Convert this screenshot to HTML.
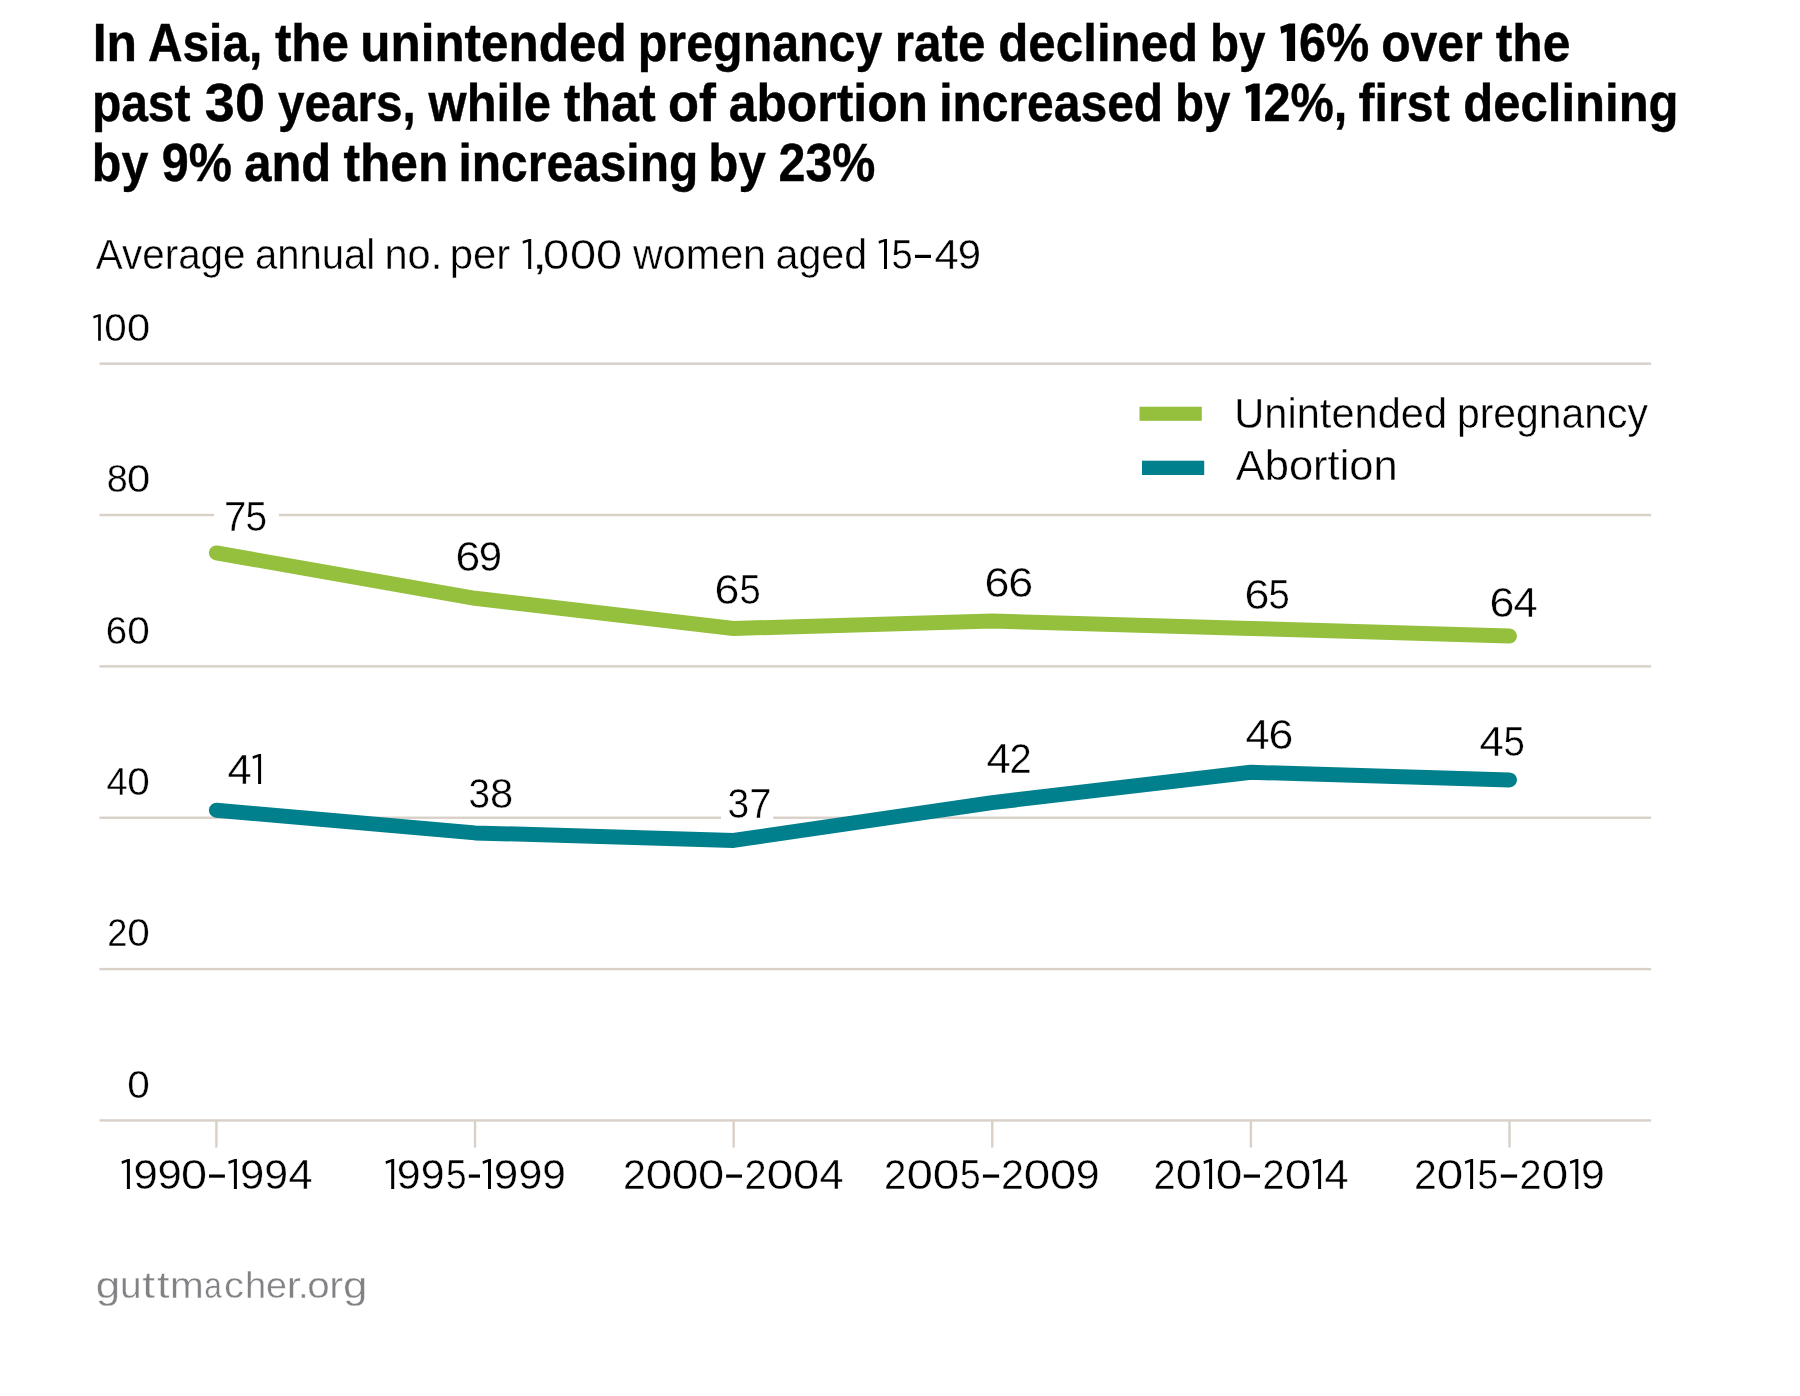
<!DOCTYPE html>
<html lang="en"><head><meta charset="utf-8"><title>Unintended pregnancy and abortion rates in Asia, 1990-2019</title>
<style>
html,body{margin:0;padding:0;background:#fff;}
svg{display:block;will-change:transform;}
text{font-family:"Liberation Sans",sans-serif;white-space:pre;vector-effect:non-scaling-stroke;}
body{width:1800px;height:1396px;overflow:hidden;}
</style></head><body>
<svg width="1800" height="1396" viewBox="0 0 1800 1396">
<defs>
<clipPath id="c1"><rect x="0" y="22.7" width="1800" height="58"/></clipPath>
<clipPath id="c2"><rect x="0" y="82.6" width="1800" height="58"/></clipPath>
<clipPath id="c3"><rect x="0" y="142.6" width="1800" height="58"/></clipPath>
</defs>
<rect width="1800" height="1396" fill="#fff"/>
<g id="grid">
<rect x="99.5" y="362.45" width="1551.6" height="2.4" fill="#d9d0c8"/>
<rect x="99.5" y="513.81" width="1551.6" height="2.4" fill="#d9d0c8"/>
<rect x="99.5" y="665.17" width="1551.6" height="2.4" fill="#d9d0c8"/>
<rect x="99.5" y="816.53" width="1551.6" height="2.4" fill="#d9d0c8"/>
<rect x="99.5" y="967.89" width="1551.6" height="2.4" fill="#d9d0c8"/>
<rect x="99.5" y="1119.25" width="1551.6" height="2.4" fill="#d9d0c8"/>
<rect x="215.20" y="1120.45" width="2.4" height="27.15" fill="#d9d0c8"/>
<rect x="473.82" y="1120.45" width="2.4" height="27.15" fill="#d9d0c8"/>
<rect x="732.44" y="1120.45" width="2.4" height="27.15" fill="#d9d0c8"/>
<rect x="991.06" y="1120.45" width="2.4" height="27.15" fill="#d9d0c8"/>
<rect x="1249.68" y="1120.45" width="2.4" height="27.15" fill="#d9d0c8"/>
<rect x="1508.30" y="1120.45" width="2.4" height="27.15" fill="#d9d0c8"/>
</g>
<g id="label-masks">
<rect x="213.9" y="511.0" width="65.0" height="8" fill="#fff"/>
<rect x="721.0" y="813.7" width="52.3" height="8" fill="#fff"/>
</g>
<g id="series">
<polyline points="216.4,552.9 475.0,598.3 733.6,628.5 992.3,621.0 1250.9,628.5 1509.5,636.1" fill="none" stroke="#95c03d" stroke-width="15.0" stroke-linecap="round" stroke-linejoin="round"/>
<polyline points="216.4,810.2 475.0,832.9 733.6,840.4 992.3,802.6 1250.9,772.3 1509.5,779.9" fill="none" stroke="#007f8c" stroke-width="15.0" stroke-linecap="round" stroke-linejoin="round"/>
</g>
<g id="legend">
<rect x="1139.5" y="406.7" width="62.3" height="14.1" fill="#95c03d"/>
<rect x="1142" y="460.7" width="62.2" height="14.3" fill="#007f8c"/>
</g>
<g id="labels">
<g clip-path="url(#c1)"><text transform="translate(92.73 61.10) scale(0.9155 1)" font-size="54.5" font-weight="bold" fill="#000" stroke="#000" stroke-width="0.4">In</text></g>
<g clip-path="url(#c1)"><text transform="translate(147.95 61.10) scale(0.8781 1)" font-size="54.5" font-weight="bold" fill="#000" stroke="#000" stroke-width="0.4">Asia,</text></g>
<g clip-path="url(#c1)"><text transform="translate(274.89 61.10) scale(0.9063 1)" font-size="54.5" font-weight="bold" fill="#000" stroke="#000" stroke-width="0.4">the</text></g>
<g clip-path="url(#c1)"><text transform="translate(360.28 61.10) scale(0.9073 1)" font-size="54.5" font-weight="bold" fill="#000" stroke="#000" stroke-width="0.4">unintended</text></g>
<g clip-path="url(#c1)"><text transform="translate(637.83 61.10) scale(0.8877 1)" font-size="54.5" font-weight="bold" fill="#000" stroke="#000" stroke-width="0.4">pregnancy</text></g>
<g clip-path="url(#c1)"><text transform="translate(894.76 61.10) scale(0.9074 1)" font-size="54.5" font-weight="bold" fill="#000" stroke="#000" stroke-width="0.4">rate</text></g>
<g clip-path="url(#c1)"><text transform="translate(998.26 61.10) scale(0.9046 1)" font-size="54.5" font-weight="bold" fill="#000" stroke="#000" stroke-width="0.4">declined</text></g>
<g clip-path="url(#c1)"><text transform="translate(1209.88 61.10) scale(0.8730 1)" font-size="54.5" font-weight="bold" fill="#000" stroke="#000" stroke-width="0.4">by</text></g>
<g clip-path="url(#c1)"><polygon points="1286.80,61.10 1295.10,61.10 1295.10,23.60 1288.90,23.60 1280.30,26.80 1281.25,33.75 1286.80,31.40" fill="#000"/><text x="1280.3" y="61.1" font-size="54.5" font-weight="bold" fill="none">1</text><text transform="translate(1299.03 61.10) scale(0.8920 1)" font-size="54.5" font-weight="bold" fill="#000" stroke="#000" stroke-width="0.4">6%</text></g>
<g clip-path="url(#c1)"><text transform="translate(1381.14 61.10) scale(0.8833 1)" font-size="54.5" font-weight="bold" fill="#000" stroke="#000" stroke-width="0.4">over</text></g>
<g clip-path="url(#c1)"><text transform="translate(1495.74 61.10) scale(0.9150 1)" font-size="54.5" font-weight="bold" fill="#000" stroke="#000" stroke-width="0.4">the</text></g>
<g clip-path="url(#c2)"><text transform="translate(91.90 121.00) scale(0.8802 1)" font-size="54.5" font-weight="bold" fill="#000" stroke="#000" stroke-width="0.4">past</text></g>
<g clip-path="url(#c2)"><text transform="translate(204.85 121.00) scale(0.9911 1)" font-size="54.5" font-weight="bold" fill="#000" stroke="#000" stroke-width="0.4">30</text></g>
<g clip-path="url(#c2)"><text transform="translate(278.05 121.00) scale(0.8732 1)" font-size="54.5" font-weight="bold" fill="#000" stroke="#000" stroke-width="0.4">years,</text></g>
<g clip-path="url(#c2)"><text transform="translate(428.61 121.00) scale(0.8979 1)" font-size="54.5" font-weight="bold" fill="#000" stroke="#000" stroke-width="0.4">while</text></g>
<g clip-path="url(#c2)"><text transform="translate(563.70 121.00) scale(0.9209 1)" font-size="54.5" font-weight="bold" fill="#000" stroke="#000" stroke-width="0.4">that</text></g>
<g clip-path="url(#c2)"><text transform="translate(667.91 121.00) scale(0.9311 1)" font-size="54.5" font-weight="bold" fill="#000" stroke="#000" stroke-width="0.4">of</text></g>
<g clip-path="url(#c2)"><text transform="translate(728.67 121.00) scale(0.9150 1)" font-size="54.5" font-weight="bold" fill="#000" stroke="#000" stroke-width="0.4">abortion</text></g>
<g clip-path="url(#c2)"><text transform="translate(939.15 121.00) scale(0.8803 1)" font-size="54.5" font-weight="bold" fill="#000" stroke="#000" stroke-width="0.4">increased</text></g>
<g clip-path="url(#c2)"><text transform="translate(1174.88 121.00) scale(0.8730 1)" font-size="54.5" font-weight="bold" fill="#000" stroke="#000" stroke-width="0.4">by</text></g>
<g clip-path="url(#c2)"><polygon points="1251.40,121.00 1259.70,121.00 1259.70,83.50 1253.50,83.50 1245.30,86.70 1246.25,93.65 1251.40,91.30" fill="#000"/><text x="1245.3" y="121.0" font-size="54.5" font-weight="bold" fill="none">1</text><text transform="translate(1263.43 121.00) scale(0.8940 1)" font-size="54.5" font-weight="bold" fill="#000" stroke="#000" stroke-width="0.4">2%,</text></g>
<g clip-path="url(#c2)"><text transform="translate(1358.55 121.00) scale(0.8857 1)" font-size="54.5" font-weight="bold" fill="#000" stroke="#000" stroke-width="0.4">first</text></g>
<g clip-path="url(#c2)"><text transform="translate(1463.16 121.00) scale(0.9008 1)" font-size="54.5" font-weight="bold" fill="#000" stroke="#000" stroke-width="0.4">declining</text></g>
<g clip-path="url(#c3)"><text transform="translate(91.87 181.00) scale(0.8887 1)" font-size="54.5" font-weight="bold" fill="#000" stroke="#000" stroke-width="0.4">by</text></g>
<g clip-path="url(#c3)"><text transform="translate(161.83 181.00) scale(0.8907 1)" font-size="54.5" font-weight="bold" fill="#000" stroke="#000" stroke-width="0.4">9%</text></g>
<g clip-path="url(#c3)"><text transform="translate(244.23 181.00) scale(0.8985 1)" font-size="54.5" font-weight="bold" fill="#000" stroke="#000" stroke-width="0.4">and</text></g>
<g clip-path="url(#c3)"><text transform="translate(343.39 181.00) scale(0.9125 1)" font-size="54.5" font-weight="bold" fill="#000" stroke="#000" stroke-width="0.4">then</text></g>
<g clip-path="url(#c3)"><text transform="translate(458.55 181.00) scale(0.8793 1)" font-size="54.5" font-weight="bold" fill="#000" stroke="#000" stroke-width="0.4">increasing</text></g>
<g clip-path="url(#c3)"><text transform="translate(708.37 181.00) scale(0.9036 1)" font-size="54.5" font-weight="bold" fill="#000" stroke="#000" stroke-width="0.4">by</text></g>
<g clip-path="url(#c3)"><text transform="translate(778.43 181.00) scale(0.8893 1)" font-size="54.5" font-weight="bold" fill="#000" stroke="#000" stroke-width="0.4">23%</text></g>
<g><text transform="translate(95.80 269.10) scale(0.9312 1)" font-size="43.4" fill="#000" stroke="#fff" stroke-width="0.4">Average</text></g>
<g><text transform="translate(254.89 269.10) scale(0.9230 1)" font-size="43.4" fill="#000" stroke="#fff" stroke-width="0.4">annual</text></g>
<g><text transform="translate(384.44 269.10) scale(0.9592 1)" font-size="43.4" fill="#000" stroke="#fff" stroke-width="0.4">no.</text></g>
<g><text transform="translate(449.83 269.10) scale(0.9643 1)" font-size="43.4" fill="#000" stroke="#fff" stroke-width="0.4">per</text></g>
<g><polygon points="528.20,268.90 531.20,268.90 531.20,238.90 529.20,238.90 522.50,241.10 523.00,243.80 528.20,241.85" fill="#000"/><text x="522.5" y="268.9" font-size="43.4" fill="none">1</text><text transform="translate(531.40 269.10) scale(1.3533 1)" font-size="43.4" fill="#000" stroke="#fff" stroke-width="0.4">,</text><text transform="translate(543.06 269.10) scale(1.0814 1)" font-size="43.4" fill="#000" stroke="#fff" stroke-width="0.4">0</text><text transform="translate(570.06 269.10) scale(1.0814 1)" font-size="43.4" fill="#000" stroke="#fff" stroke-width="0.4">0</text><text transform="translate(596.06 269.10) scale(1.0814 1)" font-size="43.4" fill="#000" stroke="#fff" stroke-width="0.4">0</text></g>
<g><text transform="translate(633.04 269.10) scale(0.9509 1)" font-size="43.4" fill="#000" stroke="#fff" stroke-width="0.4">women</text></g>
<g><text transform="translate(775.56 269.10) scale(0.9494 1)" font-size="43.4" fill="#000" stroke="#fff" stroke-width="0.4">aged</text></g>
<g><polygon points="884.00,268.90 887.00,268.90 887.00,238.90 885.00,238.90 878.50,241.10 879.00,243.80 884.00,241.85" fill="#000"/><text x="878.5" y="268.9" font-size="43.4" fill="none">1</text><text transform="translate(891.49 269.10) scale(0.8810 1)" font-size="43.4" fill="#000" stroke="#fff" stroke-width="0.4">5</text><rect x="915.00" y="254.80" width="16.00" height="3.20" fill="#000"/><text x="915.0" y="268.9" font-size="43.4" fill="none">–</text><text transform="translate(934.46 269.10) scale(0.9977 1)" font-size="43.4" fill="#000" stroke="#fff" stroke-width="0.4">4</text><text transform="translate(957.83 269.10) scale(0.9663 1)" font-size="43.4" fill="#000" stroke="#fff" stroke-width="0.4">9</text></g>
<g><text transform="translate(1234.24 428.20) scale(0.9592 1)" font-size="43.4" fill="#000" stroke="#fff" stroke-width="0.4">Unintended</text></g>
<g><text transform="translate(1456.94 428.20) scale(0.9427 1)" font-size="43.4" fill="#000" stroke="#fff" stroke-width="0.4">pregnancy</text></g>
<g><text transform="translate(1235.80 480.20) scale(1.0015 1)" font-size="43.4" fill="#000" stroke="#fff" stroke-width="0.4">Abortion</text></g>
<g><text transform="translate(95.85 1298.00) scale(1.2147 1)" font-size="36.1" fill="#808285" stroke="#fff" stroke-width="0.4">g</text><text transform="translate(120.06 1298.00) scale(1.0762 1)" font-size="36.1" fill="#808285" stroke="#fff" stroke-width="0.4">u</text><text transform="translate(142.35 1298.00) scale(1.2760 1)" font-size="36.1" fill="#808285" stroke="#fff" stroke-width="0.4">t</text><text transform="translate(156.90 1298.00) scale(1.2445 1)" font-size="36.1" fill="#808285" stroke="#fff" stroke-width="0.4">t</text><text transform="translate(169.95 1298.00) scale(1.1230 1)" font-size="36.1" fill="#808285" stroke="#fff" stroke-width="0.4">m</text><text transform="translate(204.19 1298.00) scale(0.8754 1)" font-size="36.1" fill="#808285" stroke="#fff" stroke-width="0.4">a</text><text transform="translate(223.92 1298.00) scale(1.1051 1)" font-size="36.1" fill="#808285" stroke="#fff" stroke-width="0.4">c</text><text transform="translate(245.09 1298.00) scale(1.0593 1)" font-size="36.1" fill="#808285" stroke="#fff" stroke-width="0.4">h</text><text transform="translate(266.05 1298.00) scale(1.0433 1)" font-size="36.1" fill="#808285" stroke="#fff" stroke-width="0.4">e</text><text transform="translate(286.87 1298.00) scale(1.1725 1)" font-size="36.1" fill="#808285" stroke="#fff" stroke-width="0.4">r</text><text transform="translate(298.05 1298.00) scale(1.0602 1)" font-size="36.1" fill="#808285" stroke="#fff" stroke-width="0.4">.</text><text transform="translate(307.37 1298.00) scale(1.1169 1)" font-size="36.1" fill="#808285" stroke="#fff" stroke-width="0.4">o</text><text transform="translate(329.25 1298.00) scale(1.1439 1)" font-size="36.1" fill="#808285" stroke="#fff" stroke-width="0.4">r</text><text transform="translate(342.89 1298.00) scale(1.2177 1)" font-size="36.1" fill="#808285" stroke="#fff" stroke-width="0.4">g</text></g>
<g><polygon points="98.15,340.65 100.80,340.65 100.80,314.15 99.03,314.15 93.20,316.09 93.64,318.48 98.15,316.76" fill="#000"/><text x="93.2" y="340.6" font-size="39.05" fill="none">1</text><text transform="translate(104.24 340.82) scale(1.0344 1)" font-size="39.05" fill="#000" stroke="#fff" stroke-width="0.35">0</text><text transform="translate(126.90 340.82) scale(1.0665 1)" font-size="39.05" fill="#000" stroke="#fff" stroke-width="0.35">0</text></g>
<g><text transform="translate(106.67 492.19) scale(0.9666 1)" font-size="39.05" fill="#000" stroke="#fff" stroke-width="0.35">8</text><text transform="translate(126.94 492.19) scale(1.0671 1)" font-size="39.05" fill="#000" stroke="#fff" stroke-width="0.35">0</text></g>
<g><text transform="translate(105.67 643.54) scale(0.9841 1)" font-size="39.05" fill="#000" stroke="#fff" stroke-width="0.35">6</text><text transform="translate(127.24 643.54) scale(1.0372 1)" font-size="39.05" fill="#000" stroke="#fff" stroke-width="0.35">0</text></g>
<g><text transform="translate(106.42 794.90) scale(0.9721 1)" font-size="39.05" fill="#000" stroke="#fff" stroke-width="0.35">4</text><text transform="translate(127.24 794.90) scale(1.0372 1)" font-size="39.05" fill="#000" stroke="#fff" stroke-width="0.35">0</text></g>
<g><text transform="translate(107.17 946.26) scale(0.9271 1)" font-size="39.05" fill="#000" stroke="#fff" stroke-width="0.35">2</text><text transform="translate(127.24 946.26) scale(1.0372 1)" font-size="39.05" fill="#000" stroke="#fff" stroke-width="0.35">0</text></g>
<g><text transform="translate(127.24 1097.62) scale(1.0372 1)" font-size="39.05" fill="#000" stroke="#fff" stroke-width="0.35">0</text></g>
<g><polygon points="126.90,1189.00 129.90,1189.00 129.90,1159.00 127.90,1159.00 121.50,1161.20 122.00,1163.90 126.90,1161.95" fill="#000"/><text x="121.5" y="1189.0" font-size="43.4" fill="none">1</text><text transform="translate(133.40 1189.20) scale(1.0061 1)" font-size="43.4" fill="#000" stroke="#fff" stroke-width="0.4">9</text><text transform="translate(157.40 1189.20) scale(1.0061 1)" font-size="43.4" fill="#000" stroke="#fff" stroke-width="0.4">9</text><text transform="translate(181.10 1189.20) scale(1.0797 1)" font-size="43.4" fill="#000" stroke="#fff" stroke-width="0.4">0</text><rect x="209.00" y="1174.50" width="15.90" height="3.20" fill="#000"/><text x="209.0" y="1189.0" font-size="43.4" fill="none">–</text><polygon points="233.90,1189.00 236.90,1189.00 236.90,1159.00 234.90,1159.00 228.30,1161.20 228.80,1163.90 233.90,1161.95" fill="#000"/><text x="228.3" y="1189.0" font-size="43.4" fill="none">1</text><text transform="translate(239.90 1189.20) scale(1.0061 1)" font-size="43.4" fill="#000" stroke="#fff" stroke-width="0.4">9</text><text transform="translate(264.29 1189.20) scale(0.9862 1)" font-size="43.4" fill="#000" stroke="#fff" stroke-width="0.4">9</text><text transform="translate(288.51 1189.20) scale(0.9976 1)" font-size="43.4" fill="#000" stroke="#fff" stroke-width="0.4">4</text></g>
<g><polygon points="391.20,1189.00 394.20,1189.00 394.20,1159.00 392.20,1159.00 385.50,1161.20 386.00,1163.90 391.20,1161.95" fill="#000"/><text x="385.5" y="1189.0" font-size="43.4" fill="none">1</text><text transform="translate(396.83 1189.20) scale(0.9887 1)" font-size="43.4" fill="#000" stroke="#fff" stroke-width="0.4">9</text><text transform="translate(420.84 1189.20) scale(0.9865 1)" font-size="43.4" fill="#000" stroke="#fff" stroke-width="0.4">9</text><text transform="translate(446.02 1189.20) scale(0.8552 1)" font-size="43.4" fill="#000" stroke="#fff" stroke-width="0.4">5</text><rect x="468.80" y="1174.50" width="11.20" height="3.20" fill="#000"/><text x="468.8" y="1189.0" font-size="43.4" fill="none">-</text><polygon points="488.00,1189.00 491.00,1189.00 491.00,1159.00 489.00,1159.00 482.50,1161.20 483.00,1163.90 488.00,1161.95" fill="#000"/><text x="482.5" y="1189.0" font-size="43.4" fill="none">1</text><text transform="translate(493.84 1189.20) scale(1.0132 1)" font-size="43.4" fill="#000" stroke="#fff" stroke-width="0.4">9</text><text transform="translate(518.39 1189.20) scale(0.9862 1)" font-size="43.4" fill="#000" stroke="#fff" stroke-width="0.4">9</text><text transform="translate(542.35 1189.20) scale(0.9792 1)" font-size="43.4" fill="#000" stroke="#fff" stroke-width="0.4">9</text></g>
<g><text transform="translate(623.06 1189.20) scale(0.9479 1)" font-size="43.4" fill="#000" stroke="#fff" stroke-width="0.4">2</text><text transform="translate(645.73 1189.20) scale(1.0979 1)" font-size="43.4" fill="#000" stroke="#fff" stroke-width="0.4">0</text><text transform="translate(671.73 1189.20) scale(1.1026 1)" font-size="43.4" fill="#000" stroke="#fff" stroke-width="0.4">0</text><text transform="translate(698.10 1189.20) scale(1.0838 1)" font-size="43.4" fill="#000" stroke="#fff" stroke-width="0.4">0</text><rect x="726.10" y="1174.50" width="15.90" height="3.20" fill="#000"/><text x="726.1" y="1189.0" font-size="43.4" fill="none">–</text><text transform="translate(744.42 1189.20) scale(0.9155 1)" font-size="43.4" fill="#000" stroke="#fff" stroke-width="0.4">2</text><text transform="translate(766.73 1189.20) scale(1.0961 1)" font-size="43.4" fill="#000" stroke="#fff" stroke-width="0.4">0</text><text transform="translate(793.10 1189.20) scale(1.0838 1)" font-size="43.4" fill="#000" stroke="#fff" stroke-width="0.4">0</text><text transform="translate(819.56 1189.20) scale(0.9956 1)" font-size="43.4" fill="#000" stroke="#fff" stroke-width="0.4">4</text></g>
<g><text transform="translate(884.10 1189.20) scale(0.9279 1)" font-size="43.4" fill="#000" stroke="#fff" stroke-width="0.4">2</text><text transform="translate(906.70 1189.20) scale(1.0838 1)" font-size="43.4" fill="#000" stroke="#fff" stroke-width="0.4">0</text><text transform="translate(932.73 1189.20) scale(1.0979 1)" font-size="43.4" fill="#000" stroke="#fff" stroke-width="0.4">0</text><text transform="translate(960.02 1189.20) scale(0.8572 1)" font-size="43.4" fill="#000" stroke="#fff" stroke-width="0.4">5</text><rect x="982.90" y="1174.50" width="16.20" height="3.20" fill="#000"/><text x="982.9" y="1189.0" font-size="43.4" fill="none">–</text><text transform="translate(1001.00 1189.20) scale(0.9503 1)" font-size="43.4" fill="#000" stroke="#fff" stroke-width="0.4">2</text><text transform="translate(1023.73 1189.20) scale(1.0961 1)" font-size="43.4" fill="#000" stroke="#fff" stroke-width="0.4">0</text><text transform="translate(1050.10 1189.20) scale(1.0838 1)" font-size="43.4" fill="#000" stroke="#fff" stroke-width="0.4">0</text><text transform="translate(1075.84 1189.20) scale(0.9865 1)" font-size="43.4" fill="#000" stroke="#fff" stroke-width="0.4">9</text></g>
<g><text transform="translate(1153.42 1189.20) scale(0.9155 1)" font-size="43.4" fill="#000" stroke="#fff" stroke-width="0.4">2</text><text transform="translate(1175.70 1189.20) scale(1.0838 1)" font-size="43.4" fill="#000" stroke="#fff" stroke-width="0.4">0</text><polygon points="1209.10,1189.00 1212.10,1189.00 1212.10,1159.00 1210.10,1159.00 1203.50,1161.20 1204.00,1163.90 1209.10,1161.95" fill="#000"/><text x="1203.5" y="1189.0" font-size="43.4" fill="none">1</text><text transform="translate(1215.67 1189.20) scale(1.1026 1)" font-size="43.4" fill="#000" stroke="#fff" stroke-width="0.4">0</text><rect x="1243.80" y="1174.50" width="16.20" height="3.20" fill="#000"/><text x="1243.8" y="1189.0" font-size="43.4" fill="none">–</text><text transform="translate(1262.42 1189.20) scale(0.9155 1)" font-size="43.4" fill="#000" stroke="#fff" stroke-width="0.4">2</text><text transform="translate(1284.67 1189.20) scale(1.1026 1)" font-size="43.4" fill="#000" stroke="#fff" stroke-width="0.4">0</text><polygon points="1318.10,1189.00 1321.10,1189.00 1321.10,1159.00 1319.10,1159.00 1312.60,1161.20 1313.10,1163.90 1318.10,1161.95" fill="#000"/><text x="1312.6" y="1189.0" font-size="43.4" fill="none">1</text><text transform="translate(1324.51 1189.20) scale(0.9976 1)" font-size="43.4" fill="#000" stroke="#fff" stroke-width="0.4">4</text></g>
<g><text transform="translate(1414.11 1189.20) scale(0.9458 1)" font-size="43.4" fill="#000" stroke="#fff" stroke-width="0.4">2</text><text transform="translate(1436.73 1189.20) scale(1.0961 1)" font-size="43.4" fill="#000" stroke="#fff" stroke-width="0.4">0</text><polygon points="1470.10,1189.00 1473.10,1189.00 1473.10,1159.00 1471.10,1159.00 1464.80,1161.20 1465.30,1163.90 1470.10,1161.95" fill="#000"/><text x="1464.8" y="1189.0" font-size="43.4" fill="none">1</text><text transform="translate(1477.42 1189.20) scale(0.8597 1)" font-size="43.4" fill="#000" stroke="#fff" stroke-width="0.4">5</text><rect x="1500.80" y="1174.50" width="16.30" height="3.20" fill="#000"/><text x="1500.8" y="1189.0" font-size="43.4" fill="none">–</text><text transform="translate(1519.42 1189.20) scale(0.9155 1)" font-size="43.4" fill="#000" stroke="#fff" stroke-width="0.4">2</text><text transform="translate(1541.73 1189.20) scale(1.0961 1)" font-size="43.4" fill="#000" stroke="#fff" stroke-width="0.4">0</text><polygon points="1575.30,1189.00 1578.30,1189.00 1578.30,1159.00 1576.30,1159.00 1569.80,1161.20 1570.30,1163.90 1575.30,1161.95" fill="#000"/><text x="1569.8" y="1189.0" font-size="43.4" fill="none">1</text><text transform="translate(1580.89 1189.20) scale(0.9840 1)" font-size="43.4" fill="#000" stroke="#fff" stroke-width="0.4">9</text></g>
<g><text transform="translate(224.05 531.30) scale(0.9257 1)" font-size="43.4" fill="#000" stroke="#fff" stroke-width="0.4">7</text><text transform="translate(245.52 531.30) scale(0.8959 1)" font-size="43.4" fill="#000" stroke="#fff" stroke-width="0.4">5</text></g>
<g><text transform="translate(455.56 570.90) scale(1.0255 1)" font-size="43.4" fill="#000" stroke="#fff" stroke-width="0.4">6</text><text transform="translate(478.83 570.90) scale(0.9663 1)" font-size="43.4" fill="#000" stroke="#fff" stroke-width="0.4">9</text></g>
<g><text transform="translate(714.40 603.80) scale(1.0307 1)" font-size="43.4" fill="#000" stroke="#fff" stroke-width="0.4">6</text><text transform="translate(739.54 603.80) scale(0.8810 1)" font-size="43.4" fill="#000" stroke="#fff" stroke-width="0.4">5</text></g>
<g><text transform="translate(984.39 597.00) scale(1.0329 1)" font-size="43.4" fill="#000" stroke="#fff" stroke-width="0.4">6</text><text transform="translate(1008.34 597.00) scale(1.0331 1)" font-size="43.4" fill="#000" stroke="#fff" stroke-width="0.4">6</text></g>
<g><text transform="translate(1244.39 608.90) scale(1.0329 1)" font-size="43.4" fill="#000" stroke="#fff" stroke-width="0.4">6</text><text transform="translate(1268.54 608.90) scale(0.8810 1)" font-size="43.4" fill="#000" stroke="#fff" stroke-width="0.4">5</text></g>
<g><text transform="translate(1489.39 617.20) scale(1.0329 1)" font-size="43.4" fill="#000" stroke="#fff" stroke-width="0.4">6</text><text transform="translate(1513.46 617.20) scale(1.0000 1)" font-size="43.4" fill="#000" stroke="#fff" stroke-width="0.4">4</text></g>
<g><text transform="translate(227.51 784.20) scale(0.9997 1)" font-size="43.4" fill="#000" stroke="#fff" stroke-width="0.4">4</text><polygon points="258.10,784.00 261.10,784.00 261.10,754.00 259.10,754.00 252.50,756.20 253.00,758.90 258.10,756.95" fill="#000"/><text x="252.5" y="784.0" font-size="43.4" fill="none">1</text></g>
<g><text transform="translate(468.38 807.80) scale(0.8909 1)" font-size="43.4" fill="#000" stroke="#fff" stroke-width="0.4">3</text><text transform="translate(489.97 807.80) scale(0.9627 1)" font-size="43.4" fill="#000" stroke="#fff" stroke-width="0.4">8</text></g>
<g><text transform="translate(727.42 818.10) scale(0.8979 1)" font-size="43.4" fill="#000" stroke="#fff" stroke-width="0.4">3</text><text transform="translate(749.49 818.10) scale(0.9083 1)" font-size="43.4" fill="#000" stroke="#fff" stroke-width="0.4">7</text></g>
<g><text transform="translate(986.50 773.20) scale(1.0046 1)" font-size="43.4" fill="#000" stroke="#fff" stroke-width="0.4">4</text><text transform="translate(1009.47 773.20) scale(0.9205 1)" font-size="43.4" fill="#000" stroke="#fff" stroke-width="0.4">2</text></g>
<g><text transform="translate(1245.51 749.20) scale(0.9976 1)" font-size="43.4" fill="#000" stroke="#fff" stroke-width="0.4">4</text><text transform="translate(1268.40 749.20) scale(1.0307 1)" font-size="43.4" fill="#000" stroke="#fff" stroke-width="0.4">6</text></g>
<g><text transform="translate(1479.50 756.20) scale(1.0046 1)" font-size="43.4" fill="#000" stroke="#fff" stroke-width="0.4">4</text><text transform="translate(1503.58 756.20) scale(0.8864 1)" font-size="43.4" fill="#000" stroke="#fff" stroke-width="0.4">5</text></g>
</g>
</svg>
</body></html>
